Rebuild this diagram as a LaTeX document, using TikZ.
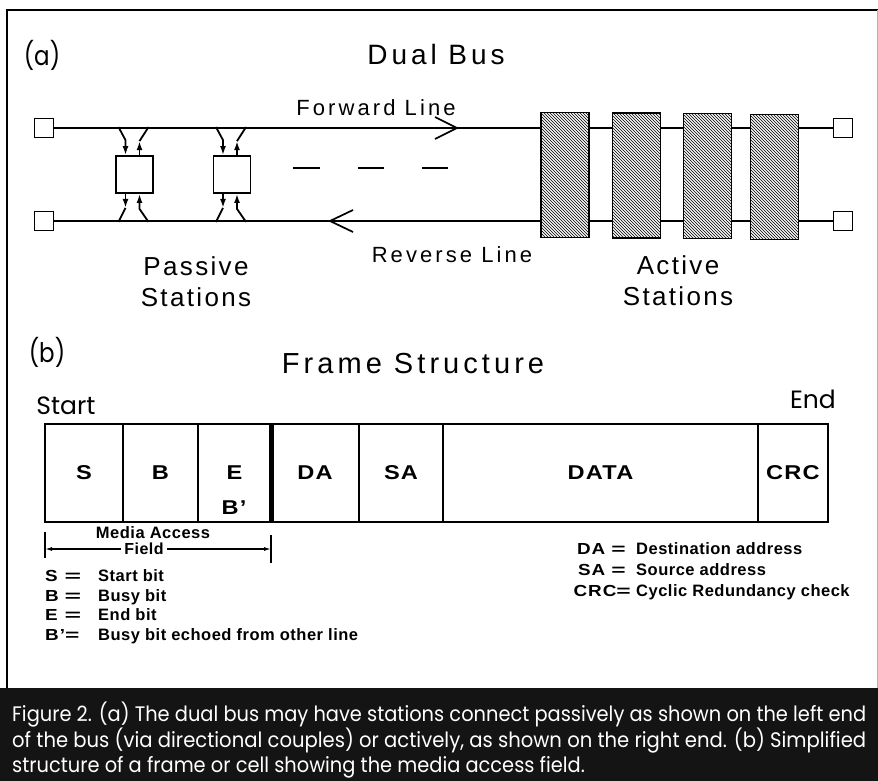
\documentclass[tikz,border=0pt]{standalone}
\usepackage{fontspec}
\setmainfont{Liberation Sans}
\newfontfamily\hvA[LetterSpace=14]{Liberation Sans}
\newfontfamily\hvB[LetterSpace=9]{Liberation Sans}
\newfontfamily\hvW[FakeStretch=1.18,LetterSpace=6]{Liberation Sans}
\newfontfamily\hvL[LetterSpace=3]{Liberation Sans}
\newfontfamily\fut{Poppins}
\usetikzlibrary{arrows.meta,patterns,calc}
\newsavebox\capone
\newlength\caponew
\begin{document}
\sbox\capone{\color{white}\fut\fontsize{21}{24}\selectfont Figure 2. (a) The dual bus may have stations connect passively as shown on the left end}%
\setlength\caponew{\wd\capone}%
\pgfmathsetmacro\capsc{854/\caponew}%
\begin{tikzpicture}[x=1pt,y=-1pt,
  ln/.style={line width=1.8pt},
  term/.style={draw,line width=1.6pt,minimum size=19pt,inner sep=0},
  pbox/.style={draw,line width=1.8pt,minimum width=37pt,minimum height=37pt,inner sep=0},
  hatch/.style={draw,line width=1.8pt,minimum width=48pt,minimum height=125pt,inner sep=0,
     preaction={fill=gray!6},pattern=north west lines},
  cp/.style={line width=1.8pt},
  arrtip/.style={-{Latex[length=9pt,width=6pt]}},
  cellbox/.style={draw,line width=1.6pt,minimum height=98pt,inner sep=0,
     font=\hvW\bfseries\fontsize{20}{24}\selectfont},
  ttl/.style={font=\hvA\fontsize{28}{32}\selectfont,inner sep=0},
  lbl/.style={font=\hvA\fontsize{22}{26}\selectfont,inner sep=0},
  sta/.style={font=\hvB\fontsize{26}{31}\selectfont,inner sep=0,align=center},
  fu/.style={font=\fut\fontsize{27}{30}\selectfont,inner sep=0},
  lgk/.style={font=\hvW\bfseries\fontsize{16}{18}\selectfont,inner sep=0},
  lgt/.style={font=\hvL\bfseries\fontsize{16.5}{19}\selectfont,inner sep=0},
  captxt/.style={text=white,inner sep=0}
]
\useasboundingbox (0,0) rectangle (878,781);
% outer frame and caption band
\draw[line width=2pt] (7,688) -- (7,10) -- (878,10);
\draw[line width=1pt,gray!60] (877,10) -- (877,688);
\fill[black!92] (0,688) rectangle (878,781);

% ---------- (a) Dual bus ----------
\node[fu] (la) at (42,55) {\scalebox{0.85}[1]{(a)}};
\node[ttl] (dual) at (436,54) {Dual Bus};

\node[term] (tl) at (44,128) {};
\node[term] (bl) at (44,221) {};
\node[term] (tr) at (843,128) {};
\node[term] (br) at (843,221) {};

\node[pbox] (p1) at (134.5,174.5) {};
\node[pbox] (p2) at (232,174.5) {};

\node[hatch] (h1) at (565,175) {};
\node[hatch] (h2) at (636.5,175.5) {};
\node[hatch] (h3) at (707.5,176) {};
\node[hatch] (h4) at (774.5,177) {};

% bus lines
\draw[ln] (tl.east) -- (tl.east -| h1.west);
\draw[ln] (h1.east |- tl.east) -- (h2.west |- tl.east);
\draw[ln] (h2.east |- tl.east) -- (h3.west |- tl.east);
\draw[ln] (h3.east |- tl.east) -- (h4.west |- tl.east);
\draw[ln] (h4.east |- tr.west) -- (tr.west);
\draw[ln] (bl.east) -- (bl.east -| h1.west);
\draw[ln] (h1.east |- bl.east) -- (h2.west |- bl.east);
\draw[ln] (h2.east |- bl.east) -- (h3.west |- bl.east);
\draw[ln] (h3.east |- bl.east) -- (h4.west |- bl.east);
\draw[ln] (h4.east |- br.west) -- (br.west);

% direction chevrons
\draw[line width=1.7pt] (435,117) -- (457,128) -- (435,139);
\draw[line width=1.7pt] (353,210) -- (330,221) -- (353,232);

% couplers of passive stations
\foreach \p in {p1,p2}{
  \draw[cp,arrtip] ($(\p.north)+(-16,-28)$) -- ($(\p.north)+(-9,-15)$) -- ($(\p.north)+(-9,0)$);
  \draw[cp,arrtip] ($(\p.north)+(5,0)$) -- ($(\p.north)+(5,-14)$);
  \draw[cp] ($(\p.north)+(5,-14)$) -- ($(\p.north)+(14,-28)$);
  \draw[cp,arrtip] ($(\p.south)+(-9,0)$) -- ($(\p.south)+(-9,14)$);
  \draw[cp] ($(\p.south)+(-9,14)$) -- ($(\p.south)+(-16,28)$);
  \draw[cp,arrtip] ($(\p.south)+(14,28)$) -- ($(\p.south)+(5,15)$) -- ($(\p.south)+(5,0)$);
}

% dashes
\draw[line width=1.8pt] (293,168) -- (320,168);
\draw[line width=1.8pt] (358,168) -- (384,168);
\draw[line width=1.8pt] (422,168) -- (448,168);

\node[lbl] (fwd) at (376,108) {Forward Line};
\node[lbl] (rev) at (452,255) {Reverse Line};
\node[sta] (pas) at (196,282) {Passive\\Stations};
\node[sta] (act) at (678,281) {Active\\Stations};

% ---------- (b) Frame structure ----------
\node[fu] (lb) at (47,352) {\scalebox{0.85}[1]{(b)}};
\node[ttl,font=\hvA\fontsize{29}{32}\selectfont] (frs) at (413,364) {Frame Structure};
\node[fu,font=\fut\fontsize{25}{28}\selectfont] (start) at (66,406) {Start};
\node[fu,font=\fut\fontsize{25}{28}\selectfont] (end) at (813,399) {End};

\node[cellbox,minimum width=78pt] (cS) at (84,473) {S};
\node[cellbox,minimum width=75pt] (cB) at (160.5,473) {B};
\node[cellbox,minimum width=73pt] (cE) at (234.5,473) {E};
\node[cellbox,minimum width=88pt] (cDA) at (315,473) {DA};
\node[cellbox,minimum width=84pt] (cSA) at (401,473) {SA};
\node[cellbox,minimum width=315pt] (cDATA) at (600.5,473) {DATA};
\node[cellbox,minimum width=70pt] (cCRC) at (793,473) {CRC};
\draw[line width=5pt] (cE.north east) -- (cE.south east);
\node[inner sep=0,font=\hvW\bfseries\fontsize{20}{24}\selectfont] (bpr) at (234,508) {B’};

% media access field
\coordinate (mlt) at (45,532);
\coordinate (mlb) at (45,558);
\coordinate (mrt) at (271,535);
\coordinate (mrb) at (271,563);
\draw[line width=1.3pt] (mlt) -- (mlb);
\draw[line width=1.3pt] (mrt) -- (mrb);
\node[font=\hvL\bfseries\fontsize{16.5}{18}\selectfont,inner sep=0] (mac) at (153,533) {Media Access};
\node[font=\hvL\bfseries\fontsize{16}{18}\selectfont,inner sep=3pt] (fld) at (144,549) {Field};
\draw[line width=1.2pt,-{Latex[length=7pt,width=4pt]}] (fld.west) -- (fld.west -| mlt);
\draw[line width=1.2pt,-{Latex[length=7pt,width=4pt]}] (fld.east) -- (fld.east -| mrt);

% legends
\foreach \n/\k/\t/\y in {s/S/Start bit/581, b/B/Busy bit/601, e/E/End bit/620}{
  \node[lgk,anchor=base west] (k\n) at (45,\y) {\k};
  \node[lgk,anchor=base] (q\n) at (73,\y) {\scalebox{1.5}[1]{=}};
  \node[lgt,anchor=base west] (t\n) at (98,\y) {\t};
}
\node[lgk,anchor=base west] (kbp) at (45,640) {B’\scalebox{1.3}[1]{=}};
\node[lgt,anchor=base west] (tbp) at (98,640) {Busy bit echoed from other line};

\node[lgk,anchor=base east] (kda) at (626,554) {DA \scalebox{1.3}[1]{=}};
\node[lgt,anchor=base west] (tda) at (636,554) {Destination address};
\node[lgk,anchor=base east] (ksa) at (626,575) {SA \scalebox{1.3}[1]{=}};
\node[lgt,anchor=base west] (tsa) at (636,575) {Source address};
\node[lgk,anchor=base east] (kcrc) at (631,596) {CRC\scalebox{1.3}[1]{=}};
\node[lgt,anchor=base west] (tcrc) at (636,596) {Cyclic Redundancy check};

% caption
\node[captxt,anchor=base west] (cap1) at (12,721) {\scalebox{\capsc}[1]{\usebox\capone}};
\node[captxt,anchor=base west] (cap2) at (12,747) {\resizebox{854pt}{\height}{\fut\fontsize{21}{24}\selectfont of the bus (via directional couples) or actively, as shown on the right end. (b) Simplified}};
\node[captxt,anchor=base west] (cap3) at (12,772) {\scalebox{\capsc}[1]{\fut\fontsize{21}{24}\selectfont structure of a frame or cell showing the media access field.}};
\end{tikzpicture}
\end{document}
